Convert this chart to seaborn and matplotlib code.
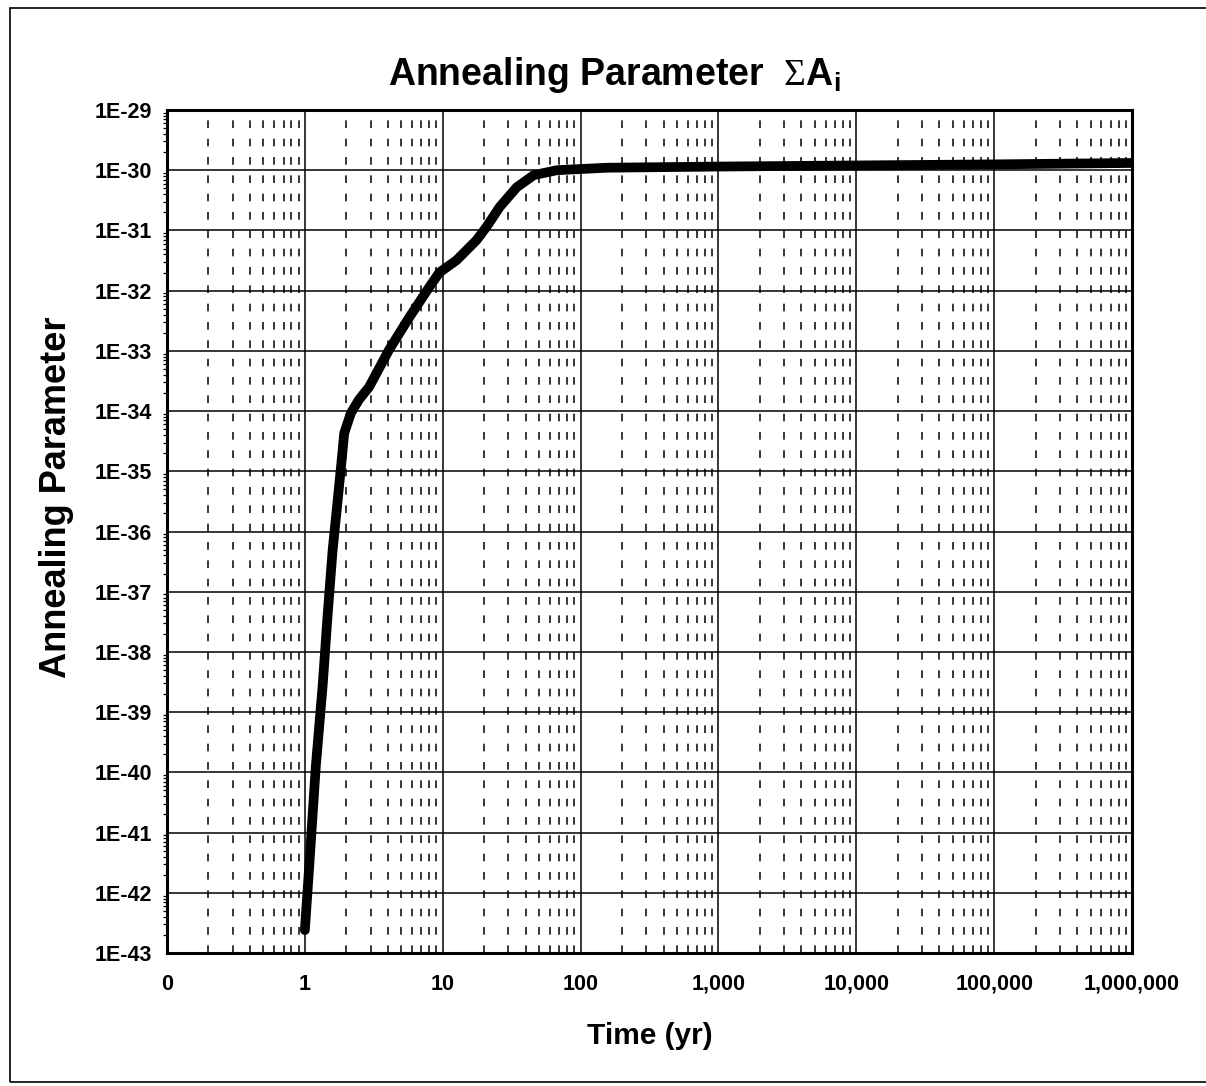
import matplotlib
matplotlib.use("Agg")
import matplotlib.pyplot as plt
import seaborn as sns
import pandas as pd
from matplotlib.ticker import LogLocator, NullFormatter
from matplotlib.patches import Rectangle

# ---- data ----
time_yr = [1.0, 1.075, 1.20, 1.35, 1.46, 1.59, 1.73, 1.83, 1.93, 2.16, 2.47,
           2.92, 4.09, 5.72, 8.0, 9.46, 12.6, 17.6, 20.8, 25.9, 34.4, 45.8,
           67.3, 155.0, 1000.0, 10000.0, 100000.0, 1000000.0]
annealing = [2.4e-43, 2.7e-42, 1.23e-40, 3.0e-39, 3.9e-38, 4.9e-37, 3.3e-36,
             1.2e-35, 4.3e-35, 9.3e-35, 1.55e-34, 2.5e-34, 1.05e-33, 3.6e-33,
             1.15e-32, 2.0e-32, 3.2e-32, 6.9e-32, 1.15e-31, 2.45e-31, 5.2e-31,
             8.3e-31, 1.0e-30, 1.1e-30, 1.15e-30, 1.2e-30, 1.25e-30, 1.32e-30]
x_ticks = [0.1, 1, 10, 100, 1000, 10000, 100000, 1000000]
x_tick_labels = ["0", "1", "10", "100", "1,000", "10,000", "100,000", "1,000,000"]
y_exponents = list(range(-43, -28))

df = pd.DataFrame({"Time (yr)": time_yr, "Annealing Parameter": annealing})

sns.set_theme(style="white")
plt.rcParams["font.family"] = ["Liberation Sans", "DejaVu Sans"]
plt.rcParams["mathtext.fontset"] = "custom"
plt.rcParams["mathtext.rm"] = "Liberation Serif"
plt.rcParams["mathtext.bf"] = "Liberation Sans:bold"
plt.rcParams["mathtext.it"] = "Liberation Sans:bold"

fig = plt.figure(figsize=(12.06, 10.86), dpi=100)
fig.patch.set_facecolor("white")
ax = fig.add_axes([167 / 1206, 1 - 953 / 1086, (1132 - 167) / 1206, (953 - 110) / 1086])

sns.lineplot(data=df, x="Time (yr)", y="Annealing Parameter", ax=ax,
             color="black", linewidth=7, sort=False, estimator=None,
             solid_capstyle="round", solid_joinstyle="round", zorder=5)

ax.set_xscale("log")
ax.set_yscale("log")
ax.set_xlim(x_ticks[0], x_ticks[-1])
ax.set_ylim(10.0 ** y_exponents[0], 10.0 ** y_exponents[-1])

ax.set_xticks(x_ticks)
ax.set_xticklabels(x_tick_labels)
ax.xaxis.set_minor_locator(LogLocator(base=10, subs=range(2, 10), numticks=100))
ax.xaxis.set_minor_formatter(NullFormatter())

ax.set_yticks([10.0 ** e for e in y_exponents])
ax.set_yticklabels([f"1E{e}" for e in y_exponents])
ax.yaxis.set_minor_locator(LogLocator(base=10, subs=range(2, 10), numticks=100))
ax.yaxis.set_minor_formatter(NullFormatter())

ax.grid(which="major", axis="both", color="black", linewidth=1.1, linestyle="-")
ax.grid(which="minor", axis="x", color="black", linewidth=1.1, linestyle=(0, (5, 7)))
ax.grid(which="minor", axis="y", visible=False)
ax.set_axisbelow(True)

for s in ax.spines.values():
    s.set_color("black")
    s.set_linewidth(2.2)

ax.tick_params(axis="x", which="major", direction="out", length=4, width=1.2,
               pad=11, labelsize=15.5, colors="black")
ax.tick_params(axis="x", which="minor", length=0)
ax.tick_params(axis="y", which="major", direction="out", length=5, width=1.2,
               pad=6, labelsize=15.5, colors="black")
ax.tick_params(axis="y", which="minor", direction="out", length=3, width=0.9,
               left=True, colors="black")
for lbl in ax.get_xticklabels() + ax.get_yticklabels():
    lbl.set_fontweight("bold")

ax.set_xlabel("Time (yr)", fontsize=21.5, fontweight="bold", color="black")
ax.set_ylabel("Annealing Parameter", fontsize=26, fontweight="bold", color="black")
ax.xaxis.set_label_coords(0.5, (953 - 1022) / 843)
ax.yaxis.set_label_coords((74 - 167) / 965, (953 - 497) / 843)

fig.text(614 / 1206, 1 - 85 / 1086, r"Annealing Parameter  $\Sigma\mathbf{A}_\mathbf{i}$",
         ha="center", va="baseline", fontsize=27, fontweight="bold", color="black")

fig.patches.append(Rectangle((10 / 1206, 1 - 1082 / 1086), 1.2, (1082 - 8) / 1086,
                             transform=fig.transFigure, fill=False,
                             edgecolor="black", linewidth=1.2))

fig.savefig("out.png", dpi=100, facecolor="white")
